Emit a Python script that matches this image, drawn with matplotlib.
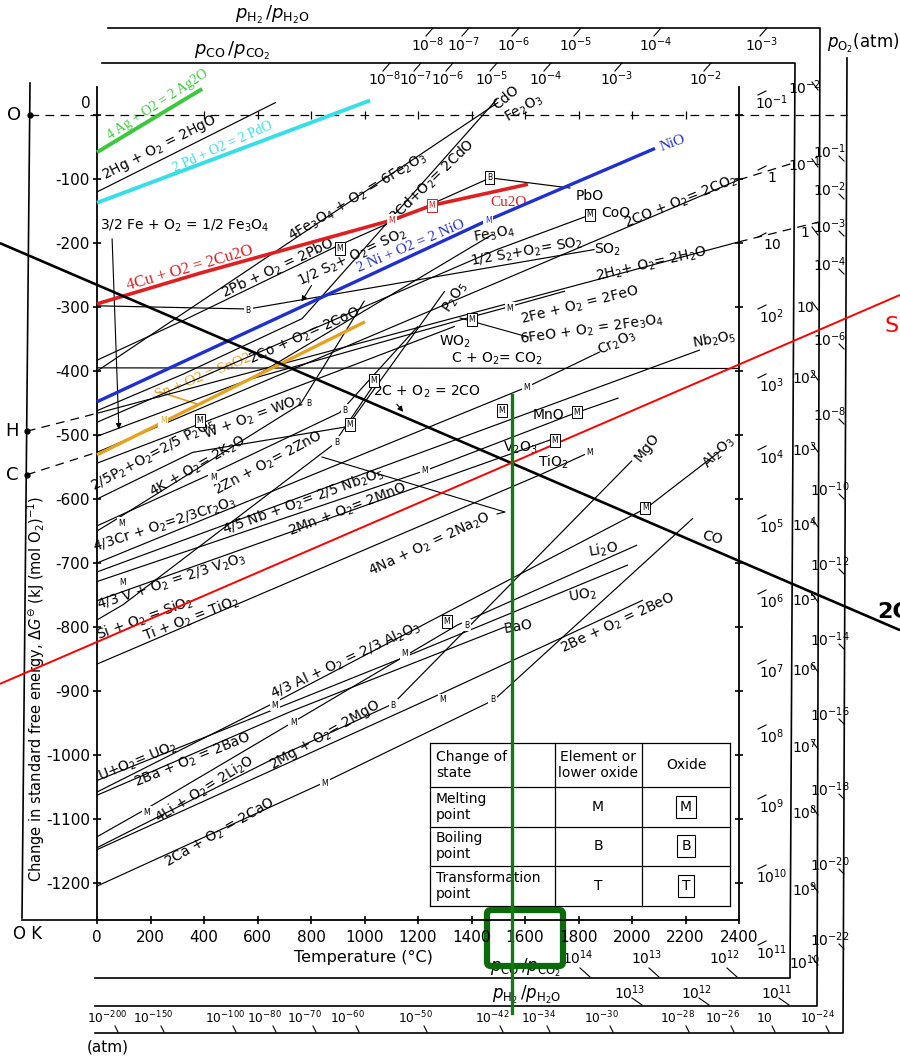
import matplotlib
matplotlib.use("Agg")
import matplotlib.pyplot as plt
from matplotlib.patches import FancyBboxPatch
import numpy as np

plt.rcParams['font.family'] = ['DejaVu Sans']
plt.rcParams['mathtext.fontset'] = 'dejavusans'

# ---------------- Ellingham lines: (temperature degC, dG kJ per mol O2) ----------------
AG2O = [(0, -58), (393, 41)]
PDO = [(0, -137), (1021, 23)]
CU2O = [(0, -295), (385, -247), (1103, -164), (1252, -141), (1611, -108)]
NIO = [(0, -448), (1462, -164), (2086, -52)]
SNO2 = [(0, -531), (232, -483), (1002, -323)]

HGO = [(0, -120), (669, 20)]
FE2O3 = [(0, -400), (1500, 20)]
CDO = [(0, -462), (321, -405), (767, -318), (1495, 25)]
PBO = [(0, -383), (327, -320), (886, -207), (1470, -98), (1770, -114)]
SO2 = [(0, -298), (565, -303), (1860, -210)]
COO = [(0, -480), (1495, -210), (1843, -156)]
FE3O4_FE = [(0, -502), (570, -413)]
FE3O4_FEO = [(570, -413), (1480, -186)]
FEO = [(570, -413), (1377, -318), (1536, -300), (1750, -275)]
CO2_FROM_CO = [(0, -527), (2400, -101)]
H2O = [(0, -466), (2400, -198)]
CO2 = [(0, -395), (2400, -396)]
WO2 = [(0, -544), (1338, -330)]
P2O5 = [(0, -600), (358, -527), (935, -487), (1300, -275)]
K2O = [(0, -650), (63, -634), (760, -452), (1000, -290)]
ZNO = [(0, -642), (420, -562), (907, -465), (1200, -330)]
CR2O3 = [(0, -700), (1607, -425), (1880, -370)]
NB2O5 = [(0, -714), (1512, -481), (2254, -367)]
MNO = [(0, -729), (1244, -553), (1785, -466), (1950, -442)]
V2O3 = [(0, -759), (1712, -505)]
NA2O = [(0, -789), (98, -765), (883, -515), (1047, -414)]
TIO2 = [(0, -858), (1668, -560), (1862, -523)]
AL2O3 = [(0, -1058), (660, -919), (2054, -614), (2330, -525)]
UO2 = [(0, -1040), (1132, -850), (1985, -703)]
BAO = [(0, -1063), (725, -932), (1525, -800)]
LI2O = [(0, -1128), (181, -1085), (1347, -797), (2019, -672)]
MGO = [(0, -1145), (650, -1008), (1107, -920), (2000, -540)]
BEO = [(0, -1148), (1287, -904), (2041, -758)]
CAO = [(0, -1205), (839, -1045), (1484, -914), (2228, -630)]

BLACK_LINES = [HGO, FE2O3, CDO, PBO, SO2, COO, FE3O4_FE, FE3O4_FEO, FEO,
               CO2_FROM_CO, H2O, CO2, WO2, P2O5, K2O, ZNO, CR2O3, NB2O5, MNO,
               V2O3, NA2O, TIO2, AL2O3, UO2, BAO, LI2O, MGO, BEO, CAO]

# highlighted full-width lines
CO_LINE = [(-363, -200), (3002, -805)]      # 2C + O2 = 2CO
SIO2_LINE = [(-363, -889), (3002, -281)]    # Si + O2 = SiO2
MARK_T = 1550                               # temperature where the two cross
MARK_G = (-437, -1403)

# reference points at 0 K and their dashed rays
O_POINT = (-250, 0)
H_POINT = (-262, -494)
C_POINT = (-262, -562)
O_RAY_END = 2804
CO2_EXT = [(2400, -101), (2602, -75)]
H2O_EXT = [(2400, -198), (2699, -167)]
O_RAY_TICKS = [400, 600, 800, 1000, 1200, 1400, 1600, 1800, 2000, 2200]

# phase-change markers: (T, dG, letter, boxed, colour)
MARKERS = [
    (1103, -164, 'M', False, '#d42020'), (1252, -141, 'M', True, '#d42020'),
    (908, -208, 'M', True, 'k'), (1469, -98, 'B', True, 'k'),
    (1462, -164, 'M', False, '#1f2fd0'), (1843, -156, 'M', True, 'k'),
    (1402, -320, 'M', True, 'k'), (1544, -302, 'M', False, 'k'),
    (565, -305, 'B', False, 'k'), (247, -477, 'M', False, '#e0a020'),
    (93, -638, 'M', False, 'k'), (793, -450, 'B', False, 'k'),
    (434, -566, 'M', False, 'k'), (927, -461, 'B', False, 'k'),
    (946, -484, 'M', True, 'k'), (897, -511, 'B', False, 'k'),
    (1607, -425, 'M', False, 'k'), (1226, -555, 'M', False, 'k'),
    (1794, -464, 'M', True, 'k'), (1514, -461, 'M', True, 'k'),
    (1712, -508, 'M', True, 'k'), (1843, -527, 'M', False, 'k'),
    (97, -731, 'M', False, 'k'), (665, -922, 'M', False, 'k'),
    (2049, -614, 'M', True, 'k'), (733, -950, 'M', False, 'k'),
    (1107, -922, 'B', False, 'k'), (187, -1090, 'M', False, 'k'),
    (1383, -797, 'B', False, 'k'), (1308, -792, 'M', True, 'k'),
    (852, -1044, 'M', False, 'k'), (1480, -914, 'B', False, 'k'),
    (1293, -914, 'M', False, 'k'), (1151, -841, 'M', False, 'k'),
    (385, -477, 'M', True, 'k'), (1035, -415, 'M', True, 'k'),
]

# axis ticks
T_TICKS = list(range(0, 2401, 200))
G_TICKS = list(range(-1200, 1, 100))

# nomographic scale labels
PH2_TOP = ['10^{-8}', '10^{-7}', '10^{-6}', '10^{-5}', '10^{-4}', '10^{-3}']
PCO_TOP = ['10^{-8}', '10^{-7}', '10^{-6}', '10^{-5}', '10^{-4}', '10^{-3}', '10^{-2}']
PCO_SIDE = ['10^{-1}', '1', '10', '10^{2}', '10^{3}', '10^{4}', '10^{5}', '10^{6}',
            '10^{7}', '10^{8}', '10^{9}', '10^{10}', '10^{11}']
PH2_SIDE = ['10^{-2}', '10^{-1}', '1', '10', '10^{2}', '10^{3}', '10^{4}', '10^{5}',
            '10^{6}', '10^{7}', '10^{8}', '10^{9}', '10^{10}']
PO2_SIDE = ['10^{-1}', '10^{-2}', '10^{-3}', '10^{-4}', '10^{-6}', '10^{-8}', '10^{-10}',
            '10^{-12}', '10^{-14}', '10^{-16}', '10^{-18}', '10^{-20}', '10^{-22}']
PCO_BOTTOM = ['10^{14}', '10^{13}', '10^{12}']
PH2_BOTTOM = ['10^{13}', '10^{12}', '10^{11}']
PO2_BOTTOM = ['10^{-200}', '10^{-150}', '10^{-100}', '10^{-80}', '10^{-70}', '10^{-60}',
              '10^{-50}', '10^{-42}', '10^{-34}', '10^{-30}', '10^{-28}', '10^{-26}',
              '10', '10^{-24}']

# ---------------------------------------------------------------------------------------
fig = plt.figure(figsize=(9, 10.56), dpi=100)
deco = fig.add_axes([0, 0, 1, 1], zorder=0)
deco.set_xlim(0, 900)
deco.set_ylim(1056, 0)
deco.axis('off')

ax = fig.add_axes([97 / 900, 1 - 920 / 1056, 642 / 900, 833 / 1056], zorder=1)
ax.patch.set_alpha(0)
ax.set_xlim(0, 2400)
ax.set_ylim(-1258, 44)
for s in ('left', 'right', 'bottom'):
    ax.spines[s].set_linewidth(1.3)
ax.spines['top'].set_visible(False)

ax.set_xticks(T_TICKS)
ax.set_xticklabels([str(t) for t in T_TICKS])
ax.set_yticks(G_TICKS)
ax.set_yticklabels(['-%d' % -g if g else '' for g in G_TICKS])
ax.tick_params(axis='x', direction='inout', length=6, width=1.2, labelsize=11, pad=4)
ax.tick_params(axis='y', direction='inout', length=6, width=1.2, labelsize=11, pad=2,
               right=True)


def draw(pts, **kw):
    xs, ys = zip(*pts)
    ax.plot(xs, ys, solid_capstyle='butt', clip_on=False, **kw)


for pts in BLACK_LINES:
    draw(pts, color='k', lw=0.85, zorder=2)

draw(AG2O, color='#3cc83c', lw=2.8, zorder=3)
draw(PDO, color='#36dfe6', lw=2.8, zorder=3)
draw(CU2O, color='#e02020', lw=2.6, zorder=3)
draw(NIO, color='#1f2fd0', lw=2.4, zorder=3)
draw(SNO2, color='#e6a21e', lw=2.4, zorder=3)

draw(CO_LINE, color='k', lw=1.9, zorder=4)
draw(SIO2_LINE, color='#ff0000', lw=1.4, zorder=4)
ax.plot([MARK_T, MARK_T], MARK_G, color='#137a13', lw=2.4, zorder=6, clip_on=False)

# dashed rays from the 0 K reference points
dash = dict(color='k', lw=0.9, ls=(0, (7, 5)), zorder=2, clip_on=False)
ax.plot([O_POINT[0], O_RAY_END], [0, 0], **dash)
ax.plot([H_POINT[0], H2O[0][0]], [H_POINT[1], H2O[0][1]], **dash)
ax.plot([C_POINT[0], CO2_FROM_CO[0][0]], [C_POINT[1], CO2_FROM_CO[0][1]], **dash)
ax.plot(*zip(*CO2_EXT), **dash)
ax.plot(*zip(*H2O_EXT), **dash)
ax.plot(O_RAY_TICKS, [0] * len(O_RAY_TICKS), ls='none', marker='|', ms=6, mew=0.9,
        color='k', clip_on=False, zorder=2)
for p in (O_POINT, H_POINT, C_POINT):
    ax.plot(*p, 'o', ms=3.5, color='k', clip_on=False, zorder=3)

for t, g, letter, boxed, col in MARKERS:
    ax.text(t, g, letter, fontsize=5.5, color=col, ha='center', va='center', zorder=5,
            bbox=dict(boxstyle='square,pad=0.25', fc='white',
                      ec=col if boxed else 'none', lw=0.7))

# ---------------------------------- frame decoration ----------------------------------
K = dict(color='k', lw=1.2)
deco.plot([30, 22], [83, 918], **K)
deco.plot([22, 97], [920, 920], **K)
deco.plot([108, 820, 817, 95], [28, 28, 1006, 1006], **K)
deco.plot([102, 795, 790, 95], [63, 63, 978, 978], **K)
deco.plot([847, 843, 95], [58, 1033, 1033], **K)

deco.text(272, 15, r'$p_{\mathrm{H_2}}\,/p_{\mathrm{H_2O}}$', fontsize=13, ha='center', va='center')
deco.text(232, 51, r'$p_{\mathrm{CO}}\,/p_{\mathrm{CO_2}}$', fontsize=13, ha='center', va='center')
deco.text(863, 43, r'$p_{\mathrm{O_2}}$(atm)', fontsize=12, ha='center', va='center')
deco.text(527, 995, r'$p_{\mathrm{H_2}}\,/p_{\mathrm{H_2O}}$', fontsize=12, ha='center', va='center')
deco.text(525, 968, r'$p_{\mathrm{CO}}\,/p_{\mathrm{CO_2}}$', fontsize=12, ha='center', va='center')
deco.text(108, 1047, '(atm)', fontsize=11, ha='center', va='center')

deco.text(14, 115, 'O', fontsize=13, ha='center', va='center')
deco.text(12, 431, 'H', fontsize=13, ha='center', va='center')
deco.text(12, 475, 'C', fontsize=13, ha='center', va='center')
deco.text(28, 934, 'O K', fontsize=12, ha='center', va='center')
deco.text(91, 104, '0', fontsize=11, ha='right', va='center')
deco.text(363, 957, 'Temperature (°C)', fontsize=11.5, ha='center', va='center')
deco.text(36, 689, r'Change in standard free energy, $\Delta G^{\ominus}$ (kJ (mol O$_2$)$^{-1}$)',
          fontsize=10.5, rotation=90, ha='center', va='center')


def exp_label(x, y, s, fs=10, **kw):
    deco.text(x, y, r'$\mathregular{' + s + '}$', fontsize=fs, ha='center', va='center', **kw)


for s, x in zip(PH2_TOP, [428, 464, 514, 576, 656, 762]):
    exp_label(x, 45, s)
    deco.plot([x - 2, x + 5], [36, 28], color='k', lw=0.8)
for s, x in zip(PCO_TOP, [385, 416, 448, 492, 546, 617, 706]):
    exp_label(x, 79, s)
    deco.plot([x - 2, x + 5], [71, 63], color='k', lw=0.8)
for s, y in zip(PCO_SIDE, [103, 178, 245, 317, 386, 458, 527, 602, 672, 737, 807, 877, 953]):
    exp_label(772, y, s)
    deco.plot([758, 766], [y - 8, y - 12], color='k', lw=0.8)
for s, y in zip(PH2_SIDE, [88, 165, 233, 308, 378, 450, 525, 600, 670, 747, 813, 890, 963]):
    exp_label(805, y, s)
    deco.plot([812, 818], [y - 6, y + 2], color='k', lw=0.8)
for s, y in zip(PO2_SIDE, [152, 190, 227, 265, 340, 415, 490, 565, 640, 715, 790, 865, 940]):
    exp_label(830, y, s)
    deco.plot([839, 844], [y + 4, y + 9], color='k', lw=0.8)
for s, x in zip(PCO_BOTTOM, [578, 647, 725]):
    exp_label(x, 958, s)
    deco.plot([x + 2, x + 12], [968, 977], color='k', lw=0.8)
for s, x in zip(PH2_BOTTOM, [630, 697, 777]):
    exp_label(x, 993, s)
    deco.plot([x + 2, x + 12], [998, 1005], color='k', lw=0.8)
for s, x in zip(PO2_BOTTOM, [107, 153, 225, 265, 305, 348, 416, 492, 539, 602, 678, 723, 764, 818]):
    exp_label(x, 1018, s, fs=8.8)
    deco.plot([x + 8, x + 11], [1026, 1032], color='k', lw=0.8)

# ------------------------------------ line labels --------------------------------------
LB = dict(fontsize=10, ha='center', va='center', rotation_mode='anchor')
labels = [
    (160, 148, r'2Hg + O$_2$ = 2HgO', 27),
    (358, 197, r'4Fe$_3$O$_4$ + O$_2$ = 6Fe$_2$O$_3$', 31),
    (432, 181, r'2Cd+O$_2$= 2CdO', 44),
    (506, 97, 'CdO', 40),
    (524, 108, r'Fe$_2$O$_3$', 30),
    (185, 226, r'3/2 Fe + O$_2$ = 1/2 Fe$_3$O$_4$', 0),
    (278, 268, r'2Pb + O$_2$ = 2PbO', 25),
    (352, 258, r'1/2 S$_2$+ O$_2$= SO$_2$', 25),
    (590, 196, 'PbO', 0),
    (494, 234, r'Fe$_3$O$_4$', 10),
    (616, 213, 'CoO', 0),
    (681, 202, r'2CO + O$_2$= 2CO$_2$', 22),
    (527, 252, r'1/2 S$_2$+O$_2$= SO$_2$', 10),
    (608, 250, r'SO$_2$', 0),
    (652, 264, r'2H$_2$+ O$_2$= 2H$_2$O', 13),
    (580, 305, r'2Fe + O$_2$ = 2FeO', 14),
    (592, 330, r'6FeO + O$_2$ = 2Fe$_3$O$_4$', 8),
    (455, 297, r'P$_2$O$_5$', 57),
    (455, 342, r'WO$_2$', 0),
    (497, 359, r'C + O$_2$= CO$_2$', 0),
    (617, 343, r'Cr$_2$O$_3$', 25),
    (714, 340, r'Nb$_2$O$_5$', 10),
    (305, 336, r'2Co + O$_2$= 2CoO', 24),
    (253, 417, r'W + O$_2$ = WO$_2$', 20),
    (153, 455, r'2/5P$_2$+O$_2$=2/5 P$_2$O$_5$', 28),
    (198, 467, r'4K + O$_2$= 2K$_2$O', 30),
    (268, 463, r'2Zn + O$_2$= 2ZnO', 28),
    (427, 392, r'2C + O$_2$ = 2CO', 0),
    (548, 415, 'MnO', 0),
    (520, 448, r'V$_2$O$_3$', 0),
    (553, 462, r'TiO$_2$', 0),
    (647, 447, 'MgO', 52),
    (718, 452, r'Al$_2$O$_3$', 45),
    (712, 538, 'CO', -15),
    (165, 525, r'4/3Cr + O$_2$=2/3Cr$_2$O$_3$', 18),
    (303, 502, r'4/5 Nb + O$_2$= 2/5 Nb$_2$O$_5$', 20),
    (348, 510, r'2Mn + O$_2$= 2MnO', 21),
    (430, 545, r'4Na + O$_2$ = 2Na$_2$O', 25),
    (172, 582, r'4/3 V + O$_2$ = 2/3 V$_2$O$_3$', 18),
    (145, 618, r'Si + O$_2$ = SiO$_2$', 20),
    (191, 619, r'Ti + O$_2$ = TiO$_2$', 21),
    (346, 660, r'4/3 Al + O$_2$ = 2/3 Al$_2$O$_3$', 25),
    (603, 550, r'Li$_2$O', 10),
    (583, 595, r'UO$_2$', 10),
    (518, 627, 'BaO', 10),
    (618, 623, r'2Be + O$_2$ = 2BeO', 25),
    (138, 762, r'U+O$_2$= UO$_2$', 22),
    (193, 760, r'2Ba + O$_2$ = 2BaO', 22),
    (205, 789, r'4Li + O$_2$= 2Li$_2$O', 32),
    (325, 735, r'2Mg + O$_2$= 2MgO', 30),
    (220, 833, r'2Ca + O$_2$ = 2CaO', 30),
]
for x, y, s, r in labels:
    deco.text(x, y, s, rotation=r, **LB)

SER = dict(family='Liberation Serif', ha='center', va='center', rotation_mode='anchor')
deco.text(158, 105, '4 Ag + O2 = 2 Ag2O', color='#3cc83c', fontsize=10, rotation=33, **SER)
deco.text(223, 147, '2 Pd + O2 = 2 PdO', color='#36dfe6', fontsize=10, rotation=24, **SER)
deco.text(190, 268, '4Cu + O2 = 2Cu2O', color='#e02020', fontsize=12, rotation=16, **SER)
deco.text(509, 203, 'Cu2O', color='#e02020', fontsize=11, **SER)
deco.text(411, 246, '2 Ni + O2 = 2 NiO', color='#1f2fd0', fontsize=11, rotation=23, **SER)
deco.text(673, 143, 'NiO', color='#1f2fd0', fontsize=11, rotation=20, **SER)
deco.text(203, 377, 'Sn + O2 = SnO2', color='#e6a21e', fontsize=11, rotation=22, **SER)

deco.text(884, 326, r'SiO$_2$', color='#ff0000', fontsize=16, ha='left', va='center')
deco.text(877, 612, '2CO', color='k', fontsize=16, fontweight='bold', ha='left', va='center')

# leader lines and arrows
thin = dict(color='k', lw=0.8)
deco.annotate('', xy=(119, 432), xytext=(112, 236),
              arrowprops=dict(arrowstyle='-|>', lw=0.8, color='k', mutation_scale=8))
deco.annotate('', xy=(405, 414), xytext=(395, 402),
              arrowprops=dict(arrowstyle='-|>', lw=0.8, color='k', mutation_scale=8))
deco.annotate('', xy=(300, 304), xytext=(313, 283),
              arrowprops=dict(arrowstyle='-|>', lw=0.8, color='k', mutation_scale=8))
deco.plot([528, 460], [337, 318], **thin)
deco.plot([322, 505, 497], [457, 512, 514], **thin)
deco.plot([160, 197], [392, 404], color='#e6a21e', lw=1.2)

# ------------------------------------ key table ----------------------------------------
tx = [430, 555, 642, 730]
ty = [743, 787, 827, 866, 906]
for x in tx:
    deco.plot([x, x], [ty[0], ty[-1]], color='k', lw=0.9)
for y in ty:
    deco.plot([tx[0], tx[-1]], [y, y], color='k', lw=0.9)
TB = dict(fontsize=10, va='center', linespacing=1.1)
deco.text(436, 765, 'Change of\nstate', ha='left', **TB)
deco.text(598, 765, 'Element or\nlower oxide', ha='center', **TB)
deco.text(686, 765, 'Oxide', ha='center', **TB)
for (name, letter), y in zip([('Melting\npoint', 'M'), ('Boiling\npoint', 'B'),
                              ('Transformation\npoint', 'T')], [807, 846, 886]):
    deco.text(436, y, name, ha='left', **TB)
    deco.text(598, y, letter, ha='center', **TB)
    deco.text(686, y, letter, ha='center', fontsize=10, va='center',
              bbox=dict(boxstyle='square,pad=0.3', fc='white', ec='k', lw=0.8))

# highlight box around the 1600 degC tick
deco.add_patch(FancyBboxPatch((487, 910), 76, 56, boxstyle='round,pad=0,rounding_size=4',
                              fill=False, ec='#0b6b0b', lw=4.5, zorder=10))

fig.savefig('out.png', dpi=100)
